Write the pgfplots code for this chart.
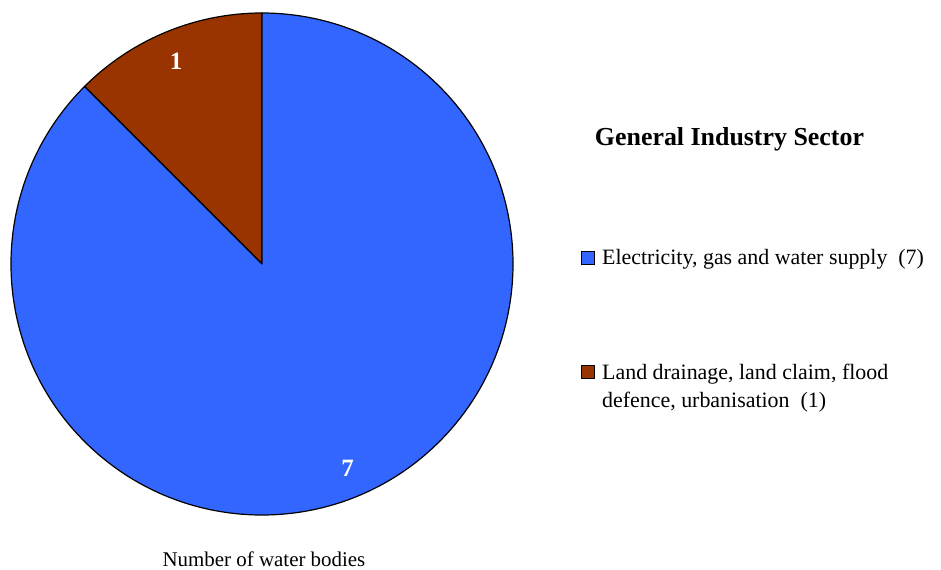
\documentclass[border=0pt]{standalone}
\usepackage{pgfplots}
\usepackage{pgfplotstable}
\usepackage{fontspec}
\setmainfont{Liberation Serif}
\pgfplotsset{compat=1.18}
\definecolor{pieblue}{HTML}{3366FF}
\definecolor{piered}{HTML}{993300}
\pgfplotstableread{
sector value
Electricity 7
Land 1
}\piedata
\begin{document}
\begin{tikzpicture}
\pgfplotstablegetelem{0}{value}\of\piedata \let\va\pgfplotsretval
\pgfplotstablegetelem{1}{value}\of\piedata \let\vb\pgfplotsretval
\pgfmathsetmacro{\total}{\va+\vb}
\pgfmathsetmacro{\angB}{90+360*\vb/\total}
\pgfmathsetmacro{\angA}{\angB+360*\va/\total}
\pgfmathtruncatemacro{\na}{\va}
\pgfmathtruncatemacro{\nb}{\vb}
\begin{axis}[
  at={(0,0)}, anchor=south west,
  x=1bp, y=1bp, scale only axis,
  xmin=0, xmax=941, ymin=0, ymax=570,
  hide axis, clip=false,
]
% slices
\filldraw[fill=piered, draw=black, line width=1.2bp, line join=round]
  (axis cs:262,306) -- ++(90:251bp) arc[start angle=90, end angle=\angB, radius=251bp] -- cycle;
\filldraw[fill=pieblue, draw=black, line width=1.2bp, line join=round]
  (axis cs:262,306) -- ++(\angB:251bp) arc[start angle=\angB, end angle=\angA, radius=251bp] -- cycle;
% value labels
\node[anchor=base, text=white, font=\fontsize{25}{30}\selectfont\bfseries, inner sep=0pt] at (axis cs:176,500) {\nb};
\node[anchor=base, text=white, font=\fontsize{25}{30}\selectfont\bfseries, inner sep=0pt] at (axis cs:347.5,94) {\na};
% title
\node[anchor=base, font=\fontsize{26}{30}\selectfont\bfseries, inner sep=0pt] at (axis cs:729.5,424) {General Industry Sector};
% legend
\filldraw[fill=pieblue, draw=black, line width=1bp] (axis cs:581,305) rectangle (axis cs:594,318);
\node[anchor=base west, font=\fontsize{22}{28.7}\selectfont, inner sep=0pt] at (axis cs:602,306) {Electricity, gas and water supply\ \ (7)};
\filldraw[fill=piered, draw=black, line width=1bp] (axis cs:581,191) rectangle (axis cs:594,204);
\node[anchor=base west, font=\fontsize{22}{28.7}\selectfont, inner sep=0pt] at (axis cs:602,191) {Land drainage, land claim, flood};
\node[anchor=base west, font=\fontsize{22}{28.7}\selectfont, inner sep=0pt] at (axis cs:602,162.3) {defence, urbanisation\ \ (1)};
% axis caption
\node[anchor=base, font=\fontsize{21}{26}\selectfont, inner sep=0pt] at (axis cs:264,3.3) {Number of water bodies};
\end{axis}
\pgfresetboundingbox
\useasboundingbox (0,0) rectangle (941bp,570bp);
\end{tikzpicture}
\end{document}
